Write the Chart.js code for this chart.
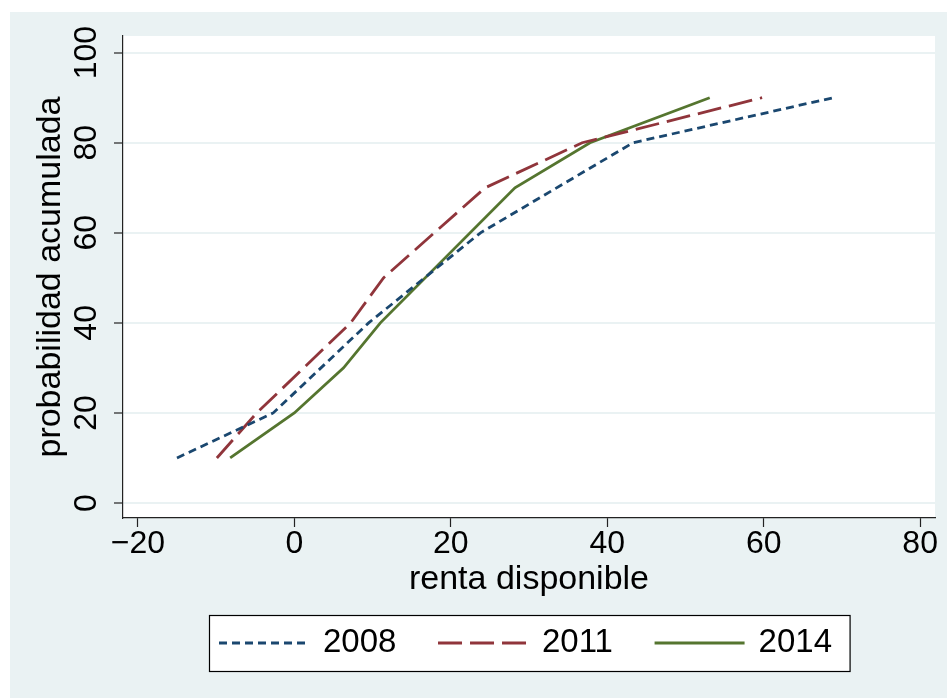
<!DOCTYPE html>
<html>
<head>
<meta charset="utf-8">
<script src="https://cdn.jsdelivr.net/npm/chart.js@4/dist/chart.umd.min.js"></script>
<style>
html,body{margin:0;padding:0;background:#fff;}
canvas{display:block;}
</style>
</head>
<body>
<canvas id="c" width="947" height="698"></canvas>
<script>
// ---- data ----
const seriesLabels = ['2008', '2011', '2014'];
const x2008 = [-15.0, -2.7, 9.5, 23.8, 43.3, 68.9];
const y2008 = [10, 20, 40, 60, 80, 90];
const x2011 = [-9.9, -4.8, 7.2, 11.4, 24.4, 36.8, 59.8];
const y2011 = [10, 20, 40, 50, 70, 80, 90];
const x2014 = [-8.2, 0, 6.3, 11.0, 28.2, 37.8, 53.1];
const y2014 = [10, 20, 30, 40, 70, 80, 90];
const xTicks = [-20, 0, 20, 40, 60, 80];
const yTicks = [0, 20, 40, 60, 80, 100];
const xTitle = 'renta disponible';
const yTitle = 'probabilidad acumulada';

const FONT = '"Liberation Sans", Arial, Helvetica, sans-serif';
const toPts = (xs, ys) => xs.map((x, i) => ({x: x, y: ys[i]}));
const fmt = v => (v < 0 ? '\u2212' + Math.abs(v) : String(v));

const bgPlugin = {
  id: 'bg',
  beforeDraw(chart) {
    const {ctx, width, height, chartArea: a} = chart;
    ctx.save();
    ctx.fillStyle = '#ffffff';
    ctx.fillRect(0, 0, width, height);
    ctx.fillStyle = '#eaf2f3';
    ctx.fillRect(10, 12, width - 10, height - 12);
    ctx.fillStyle = '#ffffff';
    ctx.fillRect(a.left, a.top, a.right - a.left, a.bottom - a.top);
    ctx.restore();
  }
};

const boxLegend = {
  id: 'boxLegend',
  afterDraw(chart) {
    const ctx = chart.ctx, a = chart.chartArea;
    ctx.save();
    ctx.font = '33px ' + FONT;
    const sample = 90, gap = 14, spacing = 41.6, padL = 10, padR = 17.6;
    const items = chart.data.datasets.map(ds => ({ds: ds, w: ctx.measureText(ds.label).width}));
    const content = items.reduce((s, it) => s + sample + gap + it.w, 0) + spacing * (items.length - 1);
    const boxW = content + padL + padR, boxH = 56;
    const boxX = Math.round((a.left + a.right) / 2 - boxW / 2);
    const boxY = Math.round(a.bottom + 97);
    ctx.fillStyle = '#ffffff';
    ctx.fillRect(boxX, boxY, boxW, boxH);
    ctx.strokeStyle = '#000000';
    ctx.lineWidth = 1.2;
    ctx.strokeRect(boxX + 0.5, boxY + 0.5, boxW, boxH);
    let x = boxX + padL;
    const cy = boxY + boxH / 2;
    items.forEach(it => {
      ctx.beginPath();
      ctx.setLineDash(it.ds.borderDash || []);
      ctx.strokeStyle = it.ds.borderColor;
      ctx.lineWidth = it.ds.borderWidth;
      ctx.moveTo(x, cy);
      ctx.lineTo(x + sample, cy);
      ctx.stroke();
      ctx.setLineDash([]);
      ctx.fillStyle = '#000000';
      ctx.textBaseline = 'middle';
      ctx.textAlign = 'left';
      ctx.fillText(it.ds.label, x + sample + gap, cy);
      x += sample + gap + it.w + spacing;
    });
    ctx.restore();
  }
};

new Chart(document.getElementById('c'), {
  type: 'scatter',
  data: {
    datasets: [
      {label: seriesLabels[0], data: toPts(x2008, y2008), showLine: true, borderColor: '#1a476f',
       borderWidth: 2.8, borderDash: [8, 5], pointRadius: 0, fill: false, tension: 0},
      {label: seriesLabels[1], data: toPts(x2011, y2011), showLine: true, borderColor: '#90353b',
       borderWidth: 2.8, borderDash: [24, 8], pointRadius: 0, fill: false, tension: 0},
      {label: seriesLabels[2], data: toPts(x2014, y2014), showLine: true, borderColor: '#55752f',
       borderWidth: 2.8, borderDash: [], pointRadius: 0, fill: false, tension: 0}
    ]
  },
  options: {
    responsive: false,
    devicePixelRatio: 1,
    animation: false,
    layout: {padding: {left: 0, top: 36, right: 12, bottom: 98}},
    plugins: {legend: {display: false}, tooltip: {enabled: false}},
    scales: {
      x: {
        type: 'linear', min: -21.9, max: 81.9,
        afterBuildTicks: s => { s.ticks = xTicks.map(v => ({value: v})); },
        afterFit: s => { s.height = 82; },
        grid: {drawOnChartArea: false, drawTicks: true, tickLength: 9, tickColor: '#222', tickWidth: 1.2},
        border: {display: true, color: '#222', width: 1.2},
        ticks: {color: '#000', font: {family: FONT, size: 32, lineHeight: 1.1}, padding: 0,
                maxRotation: 0, autoSkip: false, callback: fmt},
        title: {display: true, text: xTitle, color: '#000',
                font: {family: FONT, size: 34, lineHeight: 1.2}, padding: {top: 0, bottom: 0}}
      },
      y: {
        type: 'linear', min: -3.33, max: 103.7,
        afterBuildTicks: s => { s.ticks = yTicks.map(v => ({value: v})); },
        afterFit: s => { s.width = 123; },
        grid: {color: '#eaf2f3', lineWidth: 2, drawTicks: true, tickLength: 9, tickColor: '#222', tickWidth: 1.2},
        border: {display: true, color: '#222', width: 1.2},
        ticks: {color: '#000', font: {family: FONT, size: 32, lineHeight: 1.1}, padding: 0,
                minRotation: 90, maxRotation: 90, crossAlign: 'center', autoSkip: false, callback: fmt},
        title: {display: true, text: yTitle, color: '#000',
                font: {family: FONT, size: 34, lineHeight: 1.2}, padding: {top: 30, bottom: 0}}
      }
    }
  },
  plugins: [bgPlugin, boxLegend]
});
</script>
</body>
</html>
